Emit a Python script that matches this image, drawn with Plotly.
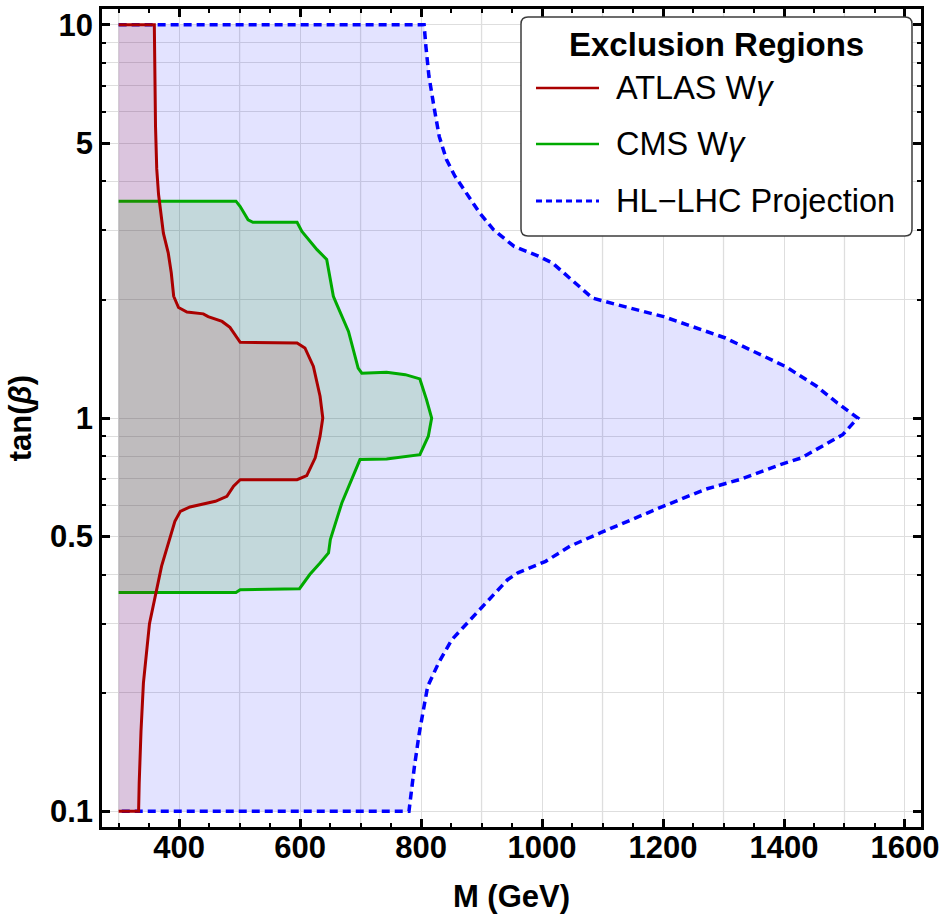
import plotly.graph_objects as go

# ---------------- data ----------------
atlas_m = [300, 359, 361, 363, 366, 374, 382, 387, 391, 399, 413, 440, 448, 471, 484, 501,
           595, 608, 622, 633, 637.5, 633, 625, 611, 595, 501, 490, 479, 460, 443, 418, 402,
           393, 371, 360, 351, 341, 337, 334, 333, 300]
atlas_t = [10, 10, 5.5, 4.3, 3.7, 2.95, 2.63, 2.34, 2.04, 1.91, 1.86, 1.84, 1.81, 1.76, 1.70, 1.557,
           1.552, 1.507, 1.353, 1.136, 1.0, 0.899, 0.792, 0.714, 0.697, 0.697, 0.671, 0.632, 0.614,
           0.606, 0.594, 0.579, 0.546, 0.42, 0.345, 0.30, 0.212, 0.16, 0.118, 0.1, 0.1]

cms_m = [300, 494, 501, 514, 522, 595, 603, 628, 644, 655, 661, 680, 696, 702, 743, 774, 798,
         809, 817.5, 812, 798, 743, 699, 669, 650, 647, 633, 616, 599, 501, 494, 300]
cms_t = [3.56, 3.56, 3.45, 3.19, 3.145, 3.145, 2.98, 2.68, 2.53, 2.04, 1.94, 1.66, 1.34, 1.30,
         1.307, 1.289, 1.257, 1.114, 1.0, 0.899, 0.807, 0.787, 0.784, 0.608, 0.491, 0.454, 0.428,
         0.40, 0.368, 0.366, 0.36, 0.36]

hl_m = [300, 805, 808, 813, 822, 830, 842, 856, 871, 897, 920, 954, 994, 1017, 1083, 1103, 1201,
        1302, 1402, 1454, 1488, 1522, 1497, 1429, 1394, 1326, 1269, 1200, 1097, 1046, 1006, 960,
        943, 891, 851, 829, 811, 803, 797, 789, 780, 300]
hl_t = [10, 10, 8.8, 7.4, 6.1, 5.2, 4.54, 4.12, 3.81, 3.32, 3.01, 2.73, 2.58, 2.48, 2.02, 1.98, 1.81,
        1.60, 1.353, 1.204, 1.092, 1.0, 0.907, 0.792, 0.761, 0.697, 0.658, 0.596, 0.511, 0.472, 0.432,
        0.404, 0.388, 0.3195, 0.2733, 0.2384, 0.208, 0.178, 0.158, 0.130, 0.1, 0.1]

x_major = [400, 600, 800, 1000, 1200, 1400, 1600]
x_grid_extra = [300, 500, 700, 900, 1100, 1300, 1500]
y_major = [0.1, 0.5, 1, 5, 10]
y_major_text = ["0.1", "0.5", "1", "5", "10"]
y_minor = [0.2, 0.3, 0.4, 0.6, 0.7, 0.8, 0.9, 2, 3, 4, 6, 7, 8, 9]

series_names = ["ATLAS W<i>\u03b3</i>", "CMS W<i>\u03b3</i>", "HL\u2212LHC Projection"]
legend_title = "Exclusion Regions"

# ---------------- style ----------------
RED = "rgb(170,0,0)"
GREEN = "rgb(0,170,0)"
BLUE = "rgb(0,0,255)"
FONT = "Liberation Sans, Arial, sans-serif"
GRID = "rgb(222,222,222)"

W, H = 944, 917
PL, PR, PT, PB = 102, 921, 9, 827


def px(x):
    return (x - PL) / (PR - PL)


def py(y):
    return (PB - y) / (PB - PT)


fig = go.Figure()
fig.add_trace(go.Scatter(x=hl_m, y=hl_t, mode="lines", fill="toself",
                         fillcolor="rgba(0,0,255,0.11)",
                         line=dict(color=BLUE, width=3.5, dash="8px,5px"),
                         name="HL-LHC Projection", showlegend=False, hoverinfo="skip"))
fig.add_trace(go.Scatter(x=cms_m, y=cms_t, mode="lines", fill="toself",
                         fillcolor="rgba(0,150,0,0.14)",
                         line=dict(color=GREEN, width=3),
                         name="CMS W\u03b3", showlegend=False, hoverinfo="skip"))
fig.add_trace(go.Scatter(x=atlas_m, y=atlas_t, mode="lines", fill="toself",
                         fillcolor="rgba(170,0,0,0.13)",
                         line=dict(color=RED, width=3),
                         name="ATLAS W\u03b3", showlegend=False, hoverinfo="skip"))

shapes = []
for gx in x_grid_extra:
    shapes.append(dict(type="line", xref="x", yref="paper", x0=gx, x1=gx, y0=0, y1=1,
                       line=dict(color=GRID, width=1.3), layer="between"))

# legend box (rounded)
bx0, bx1, by0, by1, r = 521, 912, 17, 236, 7
rx = r / (PR - PL)
ry = r / (PB - PT)
X0, X1, Y0, Y1 = px(bx0), px(bx1), py(by0), py(by1)
path = (f"M {X0+rx},{Y0} L {X1-rx},{Y0} Q {X1},{Y0} {X1},{Y0-ry} "
        f"L {X1},{Y1+ry} Q {X1},{Y1} {X1-rx},{Y1} L {X0+rx},{Y1} Q {X0},{Y1} {X0},{Y1+ry} "
        f"L {X0},{Y0-ry} Q {X0},{Y0} {X0+rx},{Y0} Z")
shapes.append(dict(type="path", xref="paper", yref="paper", path=path,
                   fillcolor="white", line=dict(color="rgb(60,60,60)", width=1.5), layer="above"))

entry_y = [88, 144, 201]
entry_style = [dict(color=RED, width=2.5), dict(color=GREEN, width=2.5),
               dict(color=BLUE, width=3, dash="6px,4px")]
annotations = [dict(text=legend_title, xref="paper", yref="paper", x=px(716), y=py(45),
                    xanchor="center", yanchor="middle", showarrow=False,
                    font=dict(family=FONT, size=33, color="black", weight="bold"))]
for name, ey, st in zip(series_names, entry_y, entry_style):
    shapes.append(dict(type="line", xref="paper", yref="paper", x0=px(536), x1=px(599),
                       y0=py(ey), y1=py(ey), line=st, layer="above"))
    annotations.append(dict(text=name, xref="paper", yref="paper", x=px(614), y=py(ey),
                            xanchor="left", yanchor="middle", showarrow=False,
                            font=dict(family=FONT, size=32.5, color="black")))

axis_common = dict(showline=True, linecolor="black", linewidth=2.5, mirror="ticks",
                   ticks="inside", ticklen=8, tickwidth=2.5, tickcolor="black",
                   showgrid=True, gridcolor=GRID, gridwidth=1.3, zeroline=False,
                   tickfont=dict(family=FONT, size=31, color="black", weight="bold"))

fig.update_layout(
    width=W, height=H,
    margin=dict(l=PL, r=W - PR, t=PT, b=H - PB, autoexpand=False),
    paper_bgcolor="white", plot_bgcolor="white",
    shapes=shapes, annotations=annotations, showlegend=False,
    xaxis=dict(range=[272.5, 1626.5], tickmode="array", tickvals=x_major,
               ticktext=[str(v) for v in x_major], ticklabelstandoff=-9,
               minor=dict(dtick=50, tick0=300, ticks="inside", ticklen=4, tickwidth=2,
                          tickcolor="black", showgrid=False),
               title=dict(text="M (GeV)", standoff=22,
                          font=dict(family=FONT, size=31, color="black", weight="bold")),
               **axis_common),
    yaxis=dict(type="log", range=[-1.04, 1.04], tickmode="array", tickvals=y_major,
               ticktext=y_major_text,
               minor=dict(tickmode="array", tickvals=y_minor, ticks="inside", ticklen=4,
                          tickwidth=2, tickcolor="black", showgrid=True, gridcolor=GRID,
                          gridwidth=1.3),
               title=dict(text="tan(<i>\u03b2</i>)", standoff=10,
                          font=dict(family=FONT, size=31, color="black", weight="bold")),
               **axis_common),
)

fig.write_html("out.html")
